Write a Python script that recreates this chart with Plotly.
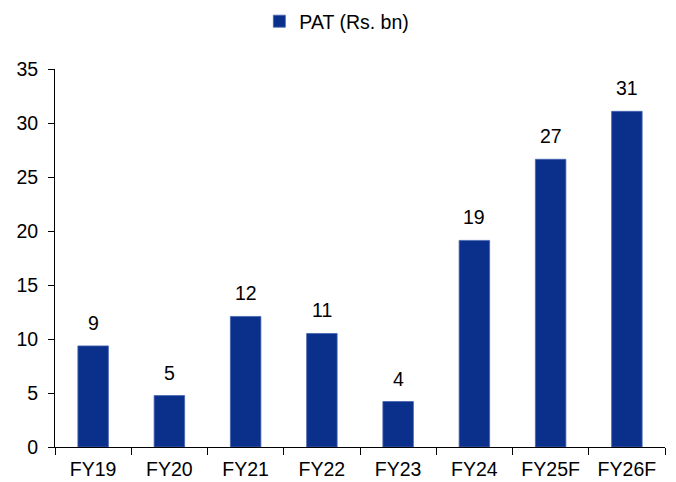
import plotly.graph_objects as go

categories = ["FY19", "FY20", "FY21", "FY22", "FY23", "FY24", "FY25F", "FY26F"]
pat_values = [9.36, 4.76, 12.09, 10.51, 4.21, 19.13, 26.64, 31.08]
series_name = "PAT (Rs. bn)"
y_ticks = [0, 5, 10, 15, 20, 25, 30, 35]

FONT = "Liberation Sans, Arial, sans-serif"
FS = 19.5
BAR_COLOR = "#0B308C"

fig = go.Figure()
fig.add_trace(go.Bar(
    x=categories,
    y=pat_values,
    name=series_name,
    marker=dict(color=BAR_COLOR, line=dict(color="#4563B0", width=0.8)),
    showlegend=True,
))

for c, v in zip(categories, pat_values):
    fig.add_annotation(
        x=c, y=v, text=f"{round(v):d}", showarrow=False,
        yanchor="middle", yshift=23,
        font=dict(family=FONT, size=FS, color="#000000"),
    )

fig.update_layout(
    width=676, height=482,
    margin=dict(l=55, r=11, t=69, b=35, autoexpand=False),
    paper_bgcolor="white", plot_bgcolor="white",
    font=dict(family=FONT, size=FS, color="#000000"),
    bargap=0.6,
    showlegend=True,
    legend=dict(
        orientation="h", x=0.335, xanchor="left",
        yref="container", y=1 - 21.5 / 482, yanchor="middle",
        font=dict(family=FONT, size=FS, color="#000000"),
        bgcolor="rgba(0,0,0,0)",
    ),
    xaxis=dict(
        type="category", showline=True, linecolor="black", linewidth=1,
        ticks="outside", tickson="boundaries", ticklen=7, tickcolor="black",
        showgrid=False, zeroline=False, automargin=False,
        ticklabelstandoff=5,
    ),
    yaxis=dict(
        range=[0, 35], tickvals=y_ticks, showline=True, linecolor="black",
        linewidth=1, ticks="outside", ticklen=6, tickcolor="black",
        showgrid=False, zeroline=False, automargin=False,
        ticklabelstandoff=6,
    ),
)

fig.write_html("out.html")
